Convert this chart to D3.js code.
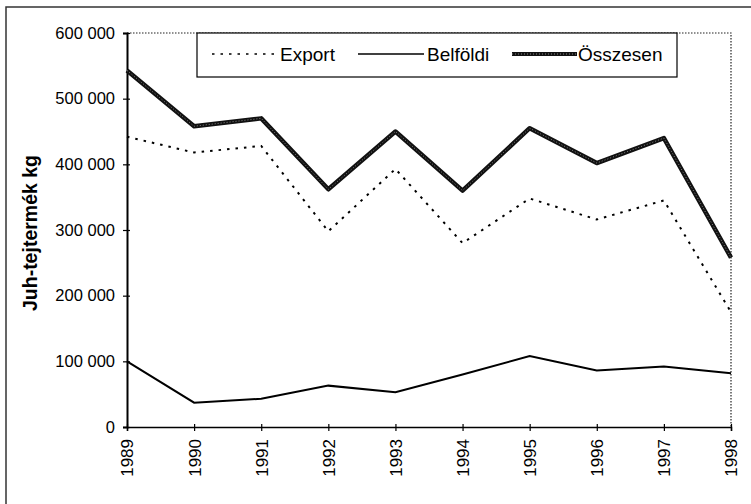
<!DOCTYPE html>
<html><head><meta charset="utf-8">
<script src="https://cdn.jsdelivr.net/npm/d3@7"></script>
<style>body{margin:0;background:#fff}svg{display:block}</style>
</head><body><svg id="c" width="751" height="504"></svg>
<script>
const years = ["1989","1990","1991","1992","1993","1994","1995","1996","1997","1998"];
const exportVals = [442000,418000,428000,298000,393000,280000,348000,316000,345000,175000];
const belfoldiVals = [100000,37000,43000,63000,53000,80000,108000,86000,92000,82000];
const osszesenVals = [543000,458000,470000,362000,450000,360000,455000,402000,440000,258000];
const yTicks = [0,100000,200000,300000,400000,500000,600000];
const seriesNames = ["Export","Belföldi","Összesen"];
const yTitle = "Juh-tejtermék kg";

const svg = d3.select("#c");
const L=127,R=731,T=33,B=427;
const x = d3.scalePoint().domain(years).range([L,R]);
const y = d3.scaleLinear().domain([0,600000]).range([B,T]);
const font = "'Liberation Sans', Arial, sans-serif";

// outer frame
svg.append("rect").attr("x",6).attr("y",7).attr("width",800).attr("height",600)
  .attr("fill","none").attr("stroke","#333").attr("stroke-width",1.5);

// plot frame (dotted top/right)
svg.append("path").attr("d",`M${L},${T}H${R}V${B}`).attr("fill","none")
  .attr("stroke","#222").attr("stroke-width",1.2).attr("stroke-dasharray","1.5,1.5");

const fmt = v => v===0 ? "0" : d3.format(",")(v).replace(/,/g," ");

// y axis
const ya = svg.append("g").attr("transform",`translate(${L},0)`)
  .call(d3.axisLeft(y).tickValues(yTicks).tickFormat(fmt).tickSize(4).tickPadding(8));
ya.attr("font-size",null);
ya.select(".domain").attr("stroke","#000").attr("stroke-width",2);
ya.selectAll(".tick line").attr("x2",-4).attr("x1",3).attr("stroke","#000").attr("stroke-width",1.2);
ya.selectAll("text").attr("font-family",font).attr("font-size",16.5).attr("fill","#000");

// x axis
const xa = svg.append("g").attr("transform",`translate(0,${B})`)
  .call(d3.axisBottom(x).tickSize(4).tickPadding(6));
xa.attr("font-size",null);
xa.select(".domain").attr("stroke","#000").attr("stroke-width",1.5);
xa.selectAll(".tick line").attr("y1",-3).attr("y2",4).attr("stroke","#000").attr("stroke-width",1.2);
xa.selectAll("text").attr("font-family",font).attr("font-size",17).attr("fill","#000")
  .attr("transform","rotate(-90)").attr("text-anchor","end").attr("dy","0.35em").attr("x",-12).attr("y",0);

// y title
svg.append("text").attr("transform",`translate(37,233) rotate(-90)`)
  .attr("text-anchor","middle").attr("font-family",font).attr("font-size",19.5).attr("font-weight","bold")
  .text(yTitle);

const line = d3.line().x((d,i)=>x(years[i])).y(d=>y(d));

svg.append("path").datum(exportVals).attr("d",line).attr("fill","none")
  .attr("stroke","#000").attr("stroke-width",2).attr("stroke-dasharray","2.5,6");
svg.append("path").datum(belfoldiVals).attr("d",line).attr("fill","none")
  .attr("stroke","#000").attr("stroke-width",2);
svg.append("path").datum(osszesenVals).attr("d",line).attr("fill","none")
  .attr("stroke","#111").attr("stroke-width",4.5).attr("stroke-linejoin","round");
svg.append("path").datum(osszesenVals).attr("d",line).attr("fill","none")
  .attr("stroke","#888").attr("stroke-width",1).attr("stroke-dasharray","1,2");

// legend
const lg = svg.append("g");
lg.append("rect").attr("x",197).attr("y",33).attr("width",480).attr("height",44)
  .attr("fill","#fff").attr("stroke","#000").attr("stroke-width",1.2);
const items = [
  {name:seriesNames[0], x1:212, x2:274, tx:280, dash:"2.5,6", w:1.5, c:"#000"},
  {name:seriesNames[1], x1:358, x2:424, tx:427, dash:null, w:1.5, c:"#000"},
  {name:seriesNames[2], x1:512, x2:577, tx:578, dash:null, w:4, c:"#111"}
];
const ly = 54;
items.forEach(it=>{
  const l = lg.append("line").attr("x1",it.x1).attr("x2",it.x2).attr("y1",ly).attr("y2",ly)
    .attr("stroke",it.c).attr("stroke-width",it.w);
  if(it.dash) l.attr("stroke-dasharray",it.dash);
  lg.append("text").attr("x",it.tx).attr("y",ly).attr("dy","0.35em").attr("font-family",font)
    .attr("font-size",19).attr("fill","#000").text(it.name);
});
lg.append("line").attr("x1",512).attr("x2",577).attr("y1",ly).attr("y2",ly)
  .attr("stroke","#888").attr("stroke-width",1).attr("stroke-dasharray","1,2");
</script></body></html>
